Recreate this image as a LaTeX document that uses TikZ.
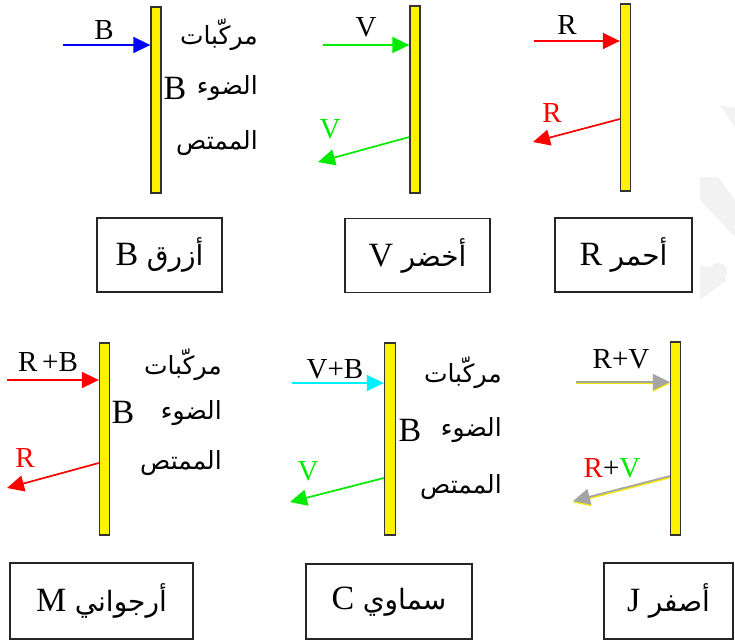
\documentclass[tikz,border=0pt]{standalone}
\usepackage{fontspec}
\setmainfont{Liberation Serif}
\newfontfamily\arabicfont[Script=Arabic]{DejaVu Sans}
\TeXXeTstate=1
\usetikzlibrary{arrows.meta}
\definecolor{rgreen}{RGB}{0,235,0}
\definecolor{rcyan}{RGB}{0,240,255}
\definecolor{rgrey}{RGB}{165,165,165}
\definecolor{ryel}{RGB}{240,230,0}
\definecolor{wm}{RGB}{242,242,242}
\newcommand{\ar}[1]{{\arabicfont\beginR #1\endR}}
\newcommand{\arbox}[1]{{\fontsize{28}{30}\selectfont\arabicfont\beginR #1\endR}}
\tikzset{
  bar/.style={draw=black!80, line width=1.3pt, fill=yellow, minimum width=10pt, inner sep=0pt},
  ray/.style={line width=1.7pt, -{Triangle[length=17pt,width=16pt]}},
  lab/.style={inner sep=0pt, font=\fontsize{29}{31}\selectfont},
  blab/.style={inner sep=0pt, font=\fontsize{34}{36}\selectfont},
  atxt/.style={inner sep=0pt, anchor=east, font=\fontsize{25}{27}\selectfont},
  cbox/.style={draw=black!85, line width=1.4pt, inner sep=0pt, font=\fontsize{34}{36}\selectfont},
}
\begin{document}
\begin{tikzpicture}[x=1pt,y=-1pt]
\useasboundingbox (0,0) rectangle (735,640);
% faint watermark
\fill[wm] (720,105) -- (735,108) -- (735,128) -- cycle;
\fill[wm] (700,177) -- (718,177) -- (735,200) -- (735,237) -- (700,200) -- cycle;
\fill[wm] (718,272) circle (9);
\fill[wm] (700,265) -- (712,268) -- (727,280) -- (700,300) -- cycle;

% ---------- top row ----------
\node[bar, minimum height=186pt] (b1) at (156,100) {};
\node[bar, minimum height=187pt] (b2) at (415,99.5) {};
\node[bar, minimum height=187pt] (b3) at (625.5,97.5) {};

% panel 1: blue
\coordinate (s1) at (63,45);
\draw[ray, blue] (s1) -- (s1 -| b1.west);
\node[lab] (l1) at (104,30) {B};
\node[blab] (l1b) at (175,88) {B};
\node[atxt] (t1a) at (258,35) {\ar{مركّبات}};
\node[atxt] (t1b) at (258,88) {\ar{الضوء}};
\node[atxt] (t1c) at (258,143) {\ar{الممتص}};

% panel 2: green
\coordinate (s2) at (323,45);
\coordinate (q2) at (0,137);
\coordinate (e2) at (318,162);
\draw[ray, rgreen] (s2) -- (s2 -| b2.west);
\draw[ray, rgreen] (b2.west |- q2) -- (e2);
\node[lab] (l2) at (366,27) {V};
\node[lab, text=rgreen] (l2r) at (330,129) {V};

% panel 3: red
\coordinate (s3) at (534,41);
\coordinate (q3) at (0,119);
\coordinate (e3) at (533,142);
\draw[ray, red] (s3) -- (s3 -| b3.west);
\draw[ray, red] (b3.west |- q3) -- (e3);
\node[lab] (l3) at (567,25) {R};
\node[lab, text=red] (l3r) at (552,113) {R};

% boxes top
\node[cbox, minimum width=125pt, minimum height=74pt] (k1) at (159.5,255) {B~\arbox{أزرق}};
\node[cbox, minimum width=145pt, minimum height=74pt] (k2) at (417.5,255.5) {V~\arbox{أخضر}};
\node[cbox, minimum width=137pt, minimum height=74pt] (k3) at (623.5,255) {R~\arbox{أحمر}};

% ---------- bottom row ----------
\node[bar, minimum height=192pt] (b4) at (104.5,439) {};
\node[bar, minimum height=192pt, minimum width=11pt] (b5) at (390,439) {};
\node[bar, minimum height=193pt] (b6) at (675.5,438.5) {};

% panel 4: magenta
\coordinate (s4) at (7,380);
\coordinate (q4) at (0,463);
\coordinate (e4) at (7,488);
\draw[ray, red] (s4) -- (s4 -| b4.west);
\draw[ray, red] (b4.west |- q4) -- (e4);
\node[lab] (l4) at (48,362) {R\,+B};
\node[lab, text=red] (l4r) at (25,458) {R};
\node[blab] (l4b) at (123,412) {B};
\node[atxt] (t4a) at (222,365) {\ar{مركّبات}};
\node[atxt] (t4b) at (222,413) {\ar{الضوء}};
\node[atxt] (t4c) at (222,463) {\ar{الممتص}};

% panel 5: cyan
\coordinate (s5) at (292,383);
\coordinate (q5) at (0,478);
\coordinate (e5) at (290,502);
\draw[ray, rcyan] (s5) -- (s5 -| b5.west);
\draw[ray, rgreen] (b5.west |- q5) -- (e5);
\node[lab] (l5) at (335,369) {V+B};
\node[lab, text=rgreen] (l5r) at (308,471) {V};
\node[blab] (l5b) at (410,430) {B};
\node[atxt] (t5a) at (502,373) {\ar{مركّبات}};
\node[atxt] (t5b) at (502,430) {\ar{الضوء}};
\node[atxt] (t5c) at (502,487) {\ar{الممتص}};

% panel 6: yellow
\coordinate (s6) at (576,382);
\coordinate (q6) at (0,476);
\coordinate (e6) at (573,501);
\draw[ray, ryel] ([yshift=-1.5pt]s6) -- ([yshift=-1.5pt]s6 -| b6.west);
\draw[ray, rgrey] (s6) -- (s6 -| b6.west);
\draw[ray, ryel] ([yshift=-1.5pt]b6.west |- q6) -- ([yshift=-1.5pt]e6);
\draw[ray, rgrey] (b6.west |- q6) -- (e6);
\node[lab] (l6) at (621,359) {R+V};
\node[lab] (l6r) at (612,468) {\textcolor{red}{R}+\textcolor{rgreen}{V}};

% boxes bottom
\node[cbox, minimum width=183pt, minimum height=76pt] (k4) at (101.5,601) {M~\arbox{أرجواني}};
\node[cbox, minimum width=166pt, minimum height=75pt] (k5) at (389,601.5) {C~\arbox{سماوي}};
\node[cbox, minimum width=129pt, minimum height=76pt] (k6) at (668.5,601) {J~\arbox{أصفر}};
\end{tikzpicture}
\end{document}
